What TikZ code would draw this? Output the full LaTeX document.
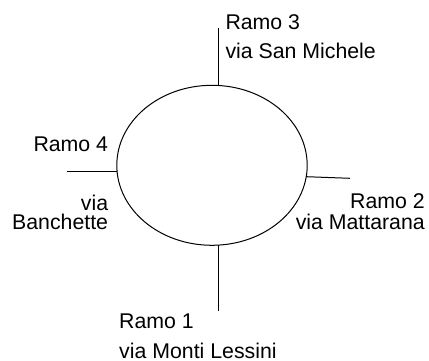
\documentclass[tikz,border=0pt]{standalone}
\usepackage{fontspec}
\setmainfont{Liberation Sans}
\usetikzlibrary{shapes.geometric}
\begin{document}
\begin{tikzpicture}[x=1pt,y=-1pt,
  lbl/.style={inner sep=0pt,font=\fontsize{21.3}{26}\selectfont},
  branch/.style={line width=1pt}]
\useasboundingbox (0,0) rectangle (429,361);
\node[draw,line width=1pt,ellipse,inner sep=0pt,minimum width=190.4pt,minimum height=160pt] (E) at (212,165.3) {};
% branch end points
\coordinate (t1) at (218.7,28);
\coordinate (t0) at (218.7,85.5);
\coordinate (b0) at (218.7,245.1);
\coordinate (b1) at (218.7,310.7);
\coordinate (l1) at (67,171.7);
\coordinate (l0) at (117.1,171.7);
\coordinate (r0) at (306.2,176.7);
\coordinate (r1) at (350,178.3);
\draw[branch] (t0) -- (t1);
\draw[branch] (b0) -- (b1);
\draw[branch] (l0) -- (l1);
\draw[branch] (r0) -- (r1);
% labels
\node[lbl,anchor=base west] (r3a) at (225.3,29.3) {Ramo 3};
\node[lbl,anchor=base west] (r3b) at (225.3,58.3) {via San Michele};
\node[lbl,anchor=base east] (r2a) at (425,208.3) {Ramo 2};
\node[lbl,anchor=base east] (r2b) at (425,229.3) {via Mattarana};
\node[lbl,anchor=base east] (r4a) at (108.3,151.7) {Ramo 4};
\node[lbl,anchor=base east] (r4b) at (108.3,210) {via};
\node[lbl,anchor=base east] (r4c) at (108.3,229.3) {Banchette};
\node[lbl,anchor=base west] (r1a) at (119,328.3) {Ramo 1};
\node[lbl,anchor=base west] (r1b) at (119,358.3) {via Monti Lessini};
\end{tikzpicture}
\end{document}
